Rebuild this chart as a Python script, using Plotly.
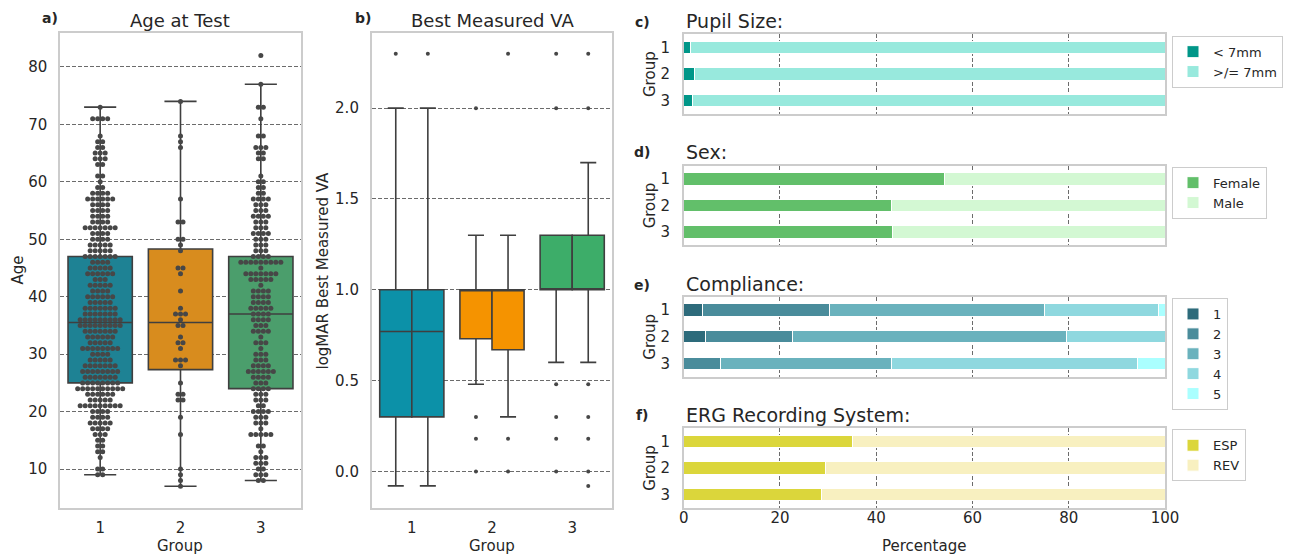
import plotly.graph_objects as go

W, H = 1290, 557
FONT = "DejaVu Sans"
TXT = "#262626"
LINE = "#3f3f3f"
FRAME = "#cccccc"
GRID = "#6b6b6b"

# ---------------- a) Age at Test ----------------
age_groups = [1, 2, 3]
age_colors = ["#1e8294", "#d88c1e", "#4b9e6c"]
age_q1 = [25.0, 27.3, 24.0]
age_median = [35.5, 35.5, 37.0]
age_q3 = [47.0, 48.3, 47.0]
age_low = [9.0, 7.0, 8.0]
age_high = [73.0, 74.0, 77.0]

# swarm: ages and number of patients at each age
ages_g1 = [73, 71, 68, 67, 66, 65, 64, 63, 61, 60, 59, 58, 57, 56, 55, 54, 53, 52, 51, 50,
           49, 48, 47, 46, 45, 44, 43, 42, 41, 40, 39, 38, 37, 36, 35, 34, 33, 32, 31, 30,
           29, 28, 27, 26, 25, 24, 23, 22, 21, 20, 19, 18, 17, 16, 15, 14, 13, 12, 10, 9]
counts_g1 = [1, 4, 1, 2, 2, 3, 3, 2, 2, 1, 2, 4, 6, 4, 4, 4, 4, 7, 4, 4,
             5, 5, 7, 4, 5, 6, 3, 5, 4, 6, 5, 7, 7, 9, 9, 7, 6, 5, 8, 4,
             5, 7, 8, 7, 8, 10, 6, 5, 9, 4, 4, 5, 4, 3, 2, 2, 2, 1, 2, 2]
ages_g2 = [74, 68, 67, 66, 57, 53, 50, 49, 48, 45, 44, 41, 38, 37, 36, 35, 33, 32, 31, 29,
           28, 25, 23, 22, 19, 16, 10, 9, 8, 7]
counts_g2 = [1, 1, 1, 1, 1, 2, 2, 1, 1, 2, 1, 1, 1, 3, 1, 2, 1, 2, 1, 3,
             1, 1, 2, 2, 1, 1, 1, 1, 1, 1]
ages_g3 = [82, 77, 73, 71, 68, 66, 65, 64, 61, 60, 59, 58, 57, 56, 55, 54, 53, 52, 51, 50,
           49, 48, 47, 46, 45, 44, 43, 42, 41, 40, 39, 38, 37, 36, 35, 34, 33, 32, 31, 30,
           29, 28, 27, 26, 25, 24, 23, 22, 21, 20, 19, 18, 17, 16, 14, 13, 12, 11, 10, 9, 8]
counts_g3 = [1, 1, 2, 1, 2, 3, 2, 2, 1, 2, 2, 2, 4, 3, 3, 4, 3, 3, 4, 3,
             3, 3, 4, 9, 1, 7, 5, 1, 4, 4, 4, 5, 4, 4, 3, 4, 1, 3, 1, 3,
             3, 4, 6, 4, 3, 4, 3, 3, 2, 4, 3, 3, 1, 5, 2, 1, 3, 3, 2, 3, 2]

# ---------------- b) Best Measured VA (two boxes per group) ----------------
va_groups = [1, 2, 3]
va_colors = ["#0c91a8", "#f59300", "#3dad69"]
va_q1_left = [0.30, 0.73, 1.00]
va_med_left = [0.77, 1.00, 1.00]
va_q3_left = [1.00, 1.00, 1.30]
va_low_left = [-0.08, 0.48, 0.60]
va_high_left = [2.00, 1.30, 1.30]
va_q1_right = [0.30, 0.67, 1.00]
va_med_right = [0.77, 1.00, 1.00]
va_q3_right = [1.00, 1.00, 1.30]
va_low_right = [-0.08, 0.30, 0.60]
va_high_right = [2.00, 1.30, 1.70]
va_out_left = [[2.3], [2.0, 0.3, 0.18, 0.0], [2.3, 2.0, 0.48, 0.3, 0.18, 0.0]]
va_out_right = [[2.3], [2.3, 0.18, 0.0], [2.3, 2.0, 0.48, 0.3, 0.18, 0.0, -0.08]]

# ---------------- c-f) stacked percentage bars ----------------
bar_groups = ["1", "2", "3"]
pupil_names = ["< 7mm", ">/= 7mm"]
pupil_colors = ["#009688", "#98e9dd"]
pupil_lt7 = [1.4, 2.2, 1.8]
pupil_ge7 = [98.6, 97.8, 98.2]

sex_names = ["Female", "Male"]
sex_colors = ["#62bf6a", "#d3f8d3"]
sex_female = [54.1, 43.1, 43.4]
sex_male = [45.9, 56.9, 56.6]

comp_names = ["1", "2", "3", "4", "5"]
comp_colors = ["#2d6b7b", "#4a8c9b", "#6ab2bd", "#8fd8df", "#aaffff"]
comp_1 = [4.0, 4.6, 0.0]
comp_2 = [26.2, 18.1, 7.6]
comp_3 = [44.7, 56.9, 35.5]
comp_4 = [23.7, 20.4, 51.1]
comp_5 = [1.4, 0.0, 5.8]

erg_names = ["ESP", "REV"]
erg_colors = ["#dbd63b", "#f8f0c0"]
erg_esp = [35.0, 29.5, 28.7]
erg_rev = [65.0, 70.5, 71.3]

pct_ticks = [0, 20, 40, 60, 80, 100]

# ---------------- layout helpers ----------------
def dom_x(left, right):
    return [left / W, right / W]

def dom_y(top, bottom):
    return [1 - bottom / H, 1 - top / H]

fig = go.Figure()

# ---- panel a boxes ----
for g, c, q1, md, q3, lo, hi in zip(age_groups, age_colors, age_q1, age_median, age_q3, age_low, age_high):
    fig.add_trace(go.Box(x=[g], q1=[q1], median=[md], q3=[q3], lowerfence=[lo], upperfence=[hi],
                         width=0.8, whiskerwidth=0.5, fillcolor=c,
                         line=dict(color=LINE, width=1.6), boxpoints=False,
                         showlegend=False, hoverinfo="skip", xaxis="x", yaxis="y"))

# ---- panel a swarm ----
DOT_STEP = 5.0 / 80.3  # horizontal spacing between dots in one row (category units)
sx, sy = [], []
for g, ages, counts in zip(age_groups, [ages_g1, ages_g2, ages_g3], [counts_g1, counts_g2, counts_g3]):
    for a, n in zip(ages, counts):
        for i in range(n):
            sx.append(g + (i - (n - 1) / 2) * DOT_STEP)
            sy.append(a)
fig.add_trace(go.Scatter(x=sx, y=sy, mode="markers",
                         marker=dict(size=5, color="#474747", line=dict(width=0)),
                         showlegend=False, hoverinfo="skip", xaxis="x", yaxis="y"))

# ---- panel b boxes ----
DODGE = 0.2
for i, (g, c) in enumerate(zip(va_groups, va_colors)):
    fig.add_trace(go.Box(x=[g - DODGE, g + DODGE],
                         q1=[va_q1_left[i], va_q1_right[i]],
                         median=[va_med_left[i], va_med_right[i]],
                         q3=[va_q3_left[i], va_q3_right[i]],
                         lowerfence=[va_low_left[i], va_low_right[i]],
                         upperfence=[va_high_left[i], va_high_right[i]],
                         width=0.4, whiskerwidth=0.5, fillcolor=c,
                         line=dict(color=LINE, width=1.6), boxpoints=False,
                         showlegend=False, hoverinfo="skip", xaxis="x2", yaxis="y2"))
ox, oy = [], []
for g, outs_l, outs_r in zip(va_groups, va_out_left, va_out_right):
    for v in outs_l:
        ox.append(g - DODGE); oy.append(v)
    for v in outs_r:
        ox.append(g + DODGE); oy.append(v)
fig.add_trace(go.Scatter(x=ox, y=oy, mode="markers",
                         marker=dict(size=4, color="#474747", line=dict(width=0)),
                         showlegend=False, hoverinfo="skip", xaxis="x2", yaxis="y2"))

# ---- panels c-f stacked bars ----
panels = [
    ("x3", "y3", "legend", pupil_names, pupil_colors, [pupil_lt7, pupil_ge7]),
    ("x4", "y4", "legend2", sex_names, sex_colors, [sex_female, sex_male]),
    ("x5", "y5", "legend3", comp_names, comp_colors, [comp_1, comp_2, comp_3, comp_4, comp_5]),
    ("x6", "y6", "legend4", erg_names, erg_colors, [erg_esp, erg_rev]),
]
for xa, ya, lg, names, cols, series in panels:
    for nm, col, vals in zip(names, cols, series):
        fig.add_trace(go.Bar(x=vals, y=bar_groups, orientation="h", name=nm,
                             marker=dict(color=col, line=dict(color="white", width=1)),
                             width=0.47, xaxis=xa, yaxis=ya, legend=lg, hoverinfo="skip"))

# ---------------- axes ----------------
common = dict(showline=True, mirror=True, linecolor=FRAME, linewidth=1.5, zeroline=False,
              tickfont=dict(size=15, color=TXT, family=FONT), ticks="outside",
              tickcolor="rgba(0,0,0,0)")
grid = dict(showgrid=True, gridcolor=GRID, gridwidth=1, griddash="4px,2px")

PLOT_TOP, PLOT_BOT = 33.3, 507.7
layout = dict(
    width=W, height=H, margin=dict(l=0, r=0, t=0, b=0, autoexpand=False),
    paper_bgcolor="white", plot_bgcolor="white",
    font=dict(family=FONT, color=TXT),
    barmode="stack", boxmode="overlay", showlegend=True,
    xaxis=dict(domain=dom_x(60, 301), range=[0.5, 3.5], tickvals=age_groups, showgrid=False,
               ticklen=6, anchor="y", **common),
    yaxis=dict(domain=dom_y(PLOT_TOP, PLOT_BOT), range=[3.27, 85.86],
               tickvals=[10, 20, 30, 40, 50, 60, 70, 80], ticklen=8, anchor="x", **grid, **common),
    xaxis2=dict(domain=dom_x(371.7, 612.3), range=[0.5, 3.5], tickvals=va_groups, showgrid=False,
                ticklen=6, anchor="y2", **common),
    yaxis2=dict(domain=dom_y(PLOT_TOP, PLOT_BOT), range=[-0.2, 2.412],
                tickvals=[0, 0.5, 1.0, 1.5, 2.0], ticktext=["0.0", "0.5", "1.0", "1.5", "2.0"],
                ticklen=8, anchor="x2", **grid, **common),
)
right_panels = [("3", 34, 114), ("4", 165.7, 245), ("5", 296.7, 376.7), ("6", 428, 507.7)]
for k, top, bot in right_panels:
    layout["xaxis" + k] = dict(domain=dom_x(683.7, 1165), range=[0, 100], tickvals=pct_ticks,
                               showticklabels=(k == "6"), ticklen=0, anchor="y" + k, **grid, **common)
    layout["yaxis" + k] = dict(domain=dom_y(top, bot), type="category",
                               categoryorder="array", categoryarray=bar_groups, autorange="reversed",
                               showgrid=False, ticklen=9, anchor="x" + k, **common)

# ---------------- legends ----------------
def legend_at(top):
    return dict(x=1172 / W, y=1 - top / H, xanchor="left", yanchor="top",
                bordercolor=FRAME, borderwidth=1, bgcolor="white", traceorder="normal",
                font=dict(size=13, color=TXT, family=FONT), tracegroupgap=0)

layout["legend"] = legend_at(35.7)
layout["legend2"] = legend_at(166.7)
layout["legend3"] = legend_at(298)
layout["legend4"] = legend_at(429.3)

# ---------------- texts ----------------
def ann(text, x, y, size, bold=False, angle=0, xanchor="center"):
    return dict(text=("<b>%s</b>" % text) if bold else text, x=x / W, y=1 - y / H,
                xref="paper", yref="paper", showarrow=False, textangle=angle,
                xanchor=xanchor, yanchor="middle",
                font=dict(size=size, color=TXT, family=FONT))

annotations = [
    ann("a)", 50, 18, 14, bold=True),
    ann("Age at Test", 180.5, 20, 18),
    ann("b)", 362.5, 18, 14, bold=True),
    ann("Best Measured VA", 492, 20, 18),
    ann("Age", 17, 270.5, 15, angle=-90),
    ann("logMAR Best Measured VA", 322, 270.5, 15, angle=-90),
    ann("Group", 180.5, 546, 15),
    ann("Group", 492, 546, 15),
    ann("Percentage", 924, 546, 15),
    ann("c)", 642, 22, 14, bold=True),
    ann("Pupil Size:", 684, 20.5, 19, xanchor="left"),
    ann("d)", 642, 152, 14, bold=True),
    ann("Sex:", 684, 151.5, 19, xanchor="left"),
    ann("e)", 642, 285, 14, bold=True),
    ann("Compliance:", 684, 283.5, 19, xanchor="left"),
    ann("f)", 642, 415, 14, bold=True),
    ann("ERG Recording System:", 684, 415, 19, xanchor="left"),
]
for k, top, bot in right_panels:
    annotations.append(ann("Group", 650, (top + bot) / 2, 15, angle=-90))
layout["annotations"] = annotations

fig.update_layout(**layout)
try:
    fig.update_layout(xaxis6_ticklabelstandoff=-4)
except Exception:
    pass
fig.write_html("out.html")
